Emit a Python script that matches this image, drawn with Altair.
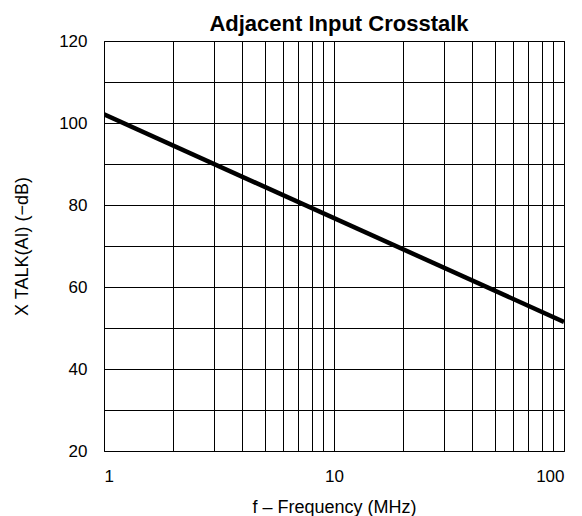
import altair as alt
import pandas as pd

freq = [1, 100]
xtalk = [102.1, 51.5]

x_grid = [1, 2, 3, 4, 5, 6, 7, 8, 9, 10, 20, 30, 40, 50, 60, 70, 80, 90, 100]
y_grid = [20, 30, 40, 50, 60, 70, 80, 90, 100, 110, 120]

df = pd.DataFrame({"f": freq, "x": xtalk})

FONT = "Liberation Sans"

x_enc = alt.X(
    "f:Q",
    scale=alt.Scale(type="log", domain=[1, 100], nice=False),
    axis=alt.Axis(
        title="f – Frequency (MHz)",
        values=x_grid,
        labelExpr="(datum.value == 1 || datum.value == 10 || datum.value == 100) ? datum.label : ''",
        format="d",
        grid=True,
        gridColor="black",
        gridOpacity=1,
        gridWidth=1,
        ticks=False,
        domain=False,
        labelPadding=17,
        labelFontSize=17,
        labelColor="black",
        titleFontSize=18,
        titleFontWeight="normal",
        titleColor="black",
        titlePadding=14,
        labelFont=FONT,
        titleFont=FONT,
    ),
)
y_enc = alt.Y(
    "x:Q",
    scale=alt.Scale(domain=[20, 120], nice=False),
    axis=alt.Axis(
        title="X TALK(AI) (−dB)",
        values=y_grid,
        labelExpr="(datum.value % 20 == 0) ? datum.label : ''",
        grid=True,
        gridColor="black",
        gridOpacity=1,
        gridWidth=1,
        ticks=False,
        domain=False,
        labelPadding=17,
        labelFontSize=17,
        labelColor="black",
        titleFontSize=18,
        titleFontWeight="normal",
        titleColor="black",
        titlePadding=27,
        labelFont=FONT,
        titleFont=FONT,
    ),
)

line = alt.Chart(df).mark_line(color="black", strokeWidth=4.5, clip=True).encode(x=x_enc, y=y_enc)

chart = line.properties(
    width=460,
    height=410,
    title=alt.TitleParams(
        "Adjacent Input Crosstalk",
        font=FONT,
        fontSize=22,
        fontWeight="bold",
        color="black",
        anchor="middle",
        frame="group",
        offset=7,
        dy=11,
        dx=5,
    ),
    autosize=alt.AutoSizeParams(type="none"),
    padding={"left": 96, "top": 33, "right": 10, "bottom": 65},
).configure_view(stroke="black", strokeWidth=1)

chart.save("out.html", embed_options={"renderer": "svg", "actions": False})
